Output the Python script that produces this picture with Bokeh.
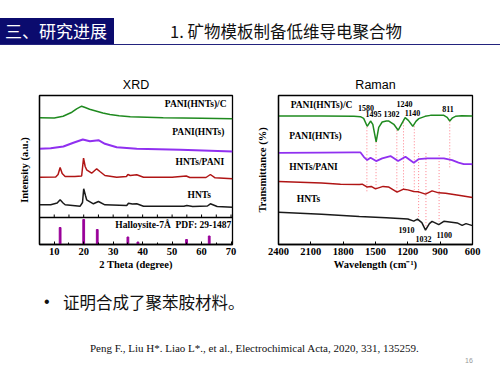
from bokeh.plotting import figure
from bokeh.models import Range1d, Label, Span, Div, FixedTicker
from bokeh.layouts import column, row
from bokeh.embed import file_html
from bokeh.resources import INLINE

SERIF = "Liberation Serif"
SANS = "Liberation Sans"
CJK = "Noto Sans CJK SC"

# ---------------- XRD patterns (stacked, a.u.) ----------------
xrd_c_theta = [5, 10, 13, 16, 17.6, 19.3, 20.5, 22, 24.4, 26.5, 28.9, 32, 35.8, 47, 60, 70.5]
xrd_c_int = [126.7, 126.5, 128.3, 132.3, 135.7, 138.3, 137, 135.3, 133.3, 131.5, 130, 128.7, 127.7, 126.7, 126.2, 125.7]

xrd_p_theta = [5, 8.8, 13.1, 16.5, 19.7, 22.1, 25, 27.2, 31.2, 38, 52.8, 70.5]
xrd_p_int = [95.7, 96.3, 98, 101.7, 105, 103.3, 104.3, 100.7, 97.3, 95.7, 94.7, 93]

xrd_hp_theta = [5, 10.5, 11.3, 12.0, 12.7, 13.7, 17, 19.3, 19.95, 20.5, 21.0, 22.7, 24.4, 25.5,
                27.2, 31.2, 34.5, 35, 35.8, 38, 40.3, 50, 54.8, 56, 61.5, 63, 64.6, 70.5]
xrd_hp_int = [67.3, 67.5, 70, 77, 71, 68, 68, 68.5, 86.3, 78, 74.7, 71.3, 75.7, 73,
              69, 67.3, 68, 70, 69, 69.7, 67.3, 67.3, 68.5, 67, 67, 70, 66.7, 65.7]

xrd_h_theta = [5, 8.8, 11.0, 12.0, 13.0, 13.7, 18.8, 19.6, 20.0, 20.6, 21.0, 23.3, 25.0, 27.2,
               34.6, 35.2, 36.5, 38.0, 40.3, 54, 55, 57, 62, 63, 65.3, 70.5]
xrd_h_int = [39.7, 39.7, 41.5, 44.7, 41.5, 39.7, 38.3, 42, 55.7, 49, 44.7, 40.7, 43, 39.7,
             39, 41.3, 40.5, 40.7, 38.3, 38.3, 39, 38, 38.5, 40.7, 38, 37.3]

# Halloysite-7A reference lines (PDF 29-1487)
ref_theta = [12.0, 20.0, 24.6, 35.0, 38.4, 54.9, 62.6]
ref_int = [17, 25, 15, 7.5, 2.5, 5, 8.5]
ref_level = 27

xrd_ticks = [10, 20, 30, 40, 50, 60, 70]
xrd_minor = [5, 15, 25, 35, 45, 55, 65]

# ---------------- Raman / transmittance spectra ----------------
ra_c_wn = [2400, 2000, 1700, 1640, 1610, 1577, 1546, 1525, 1494, 1470, 1438, 1400, 1376, 1330,
           1290, 1260, 1225, 1195, 1154, 1125, 1098, 1040, 990, 866, 835, 811, 785, 758, 700, 600]
ra_c_val = [129.3, 129.3, 129, 128.7, 127, 119, 124.3, 121, 103.3, 118, 123.3, 124.3, 124.3, 121,
            115, 121, 127.7, 125, 119, 124, 126.7, 129, 130, 130, 128, 124.3, 127.5, 129, 129.5, 129.3]

ra_p_wn = [2400, 2000, 1700, 1639, 1609, 1577, 1546, 1494, 1438, 1361, 1290, 1222, 1145, 1098,
           1020, 866, 789, 730, 681, 619, 600]
ra_p_val = [92.3, 92.5, 92.7, 92.7, 88.3, 85, 87.3, 84, 86.7, 89, 84, 88.3, 82.3, 86,
            86.7, 86.7, 85, 82.5, 81, 81, 80.8]

ra_hp_wn = [2400, 2000, 1825, 1650, 1624, 1580, 1540, 1500, 1430, 1380, 1300, 1240, 1200, 1145,
            1100, 1036, 975, 913, 850, 700, 600]
ra_hp_val = [63.3, 62, 60.7, 60.5, 60.7, 58, 58.5, 56, 58.5, 58, 52.7, 55.7, 55, 53.3,
             53, 50.7, 54, 52, 51.5, 49, 47.3]

ra_h_wn = [2400, 2000, 1650, 1400, 1200, 1145, 1110, 1070, 1036, 1000, 975, 913, 866, 742, 696, 660, 600]
ra_h_val = [32.5, 30.5, 28.3, 27, 25.7, 23.5, 25.5, 22, 14.5, 21, 23.3, 20, 23.3, 21.7, 19.3, 21, 19]

# peak markers: wavenumber, upper and lower end of the dotted guide
peak_wn = [1580, 1495, 1302, 1240, 1140, 811, 1100, 1032, 910]
peak_top = [118, 103, 115, 126, 119, 124, 92, 92, 90]
peak_bottom = [53, 55, 52, 55, 53, 77, 26, 17, 23]

# peak annotations: text, wavenumber, level
peak_text = ["1580", "1495", "1302", "1240", "1140", "811", "1910", "1032", "1100"]
peak_text_wn = [1588, 1518, 1352, 1231, 1157, 828, 1213, 1055, 863]
peak_text_y = [137.3, 131.7, 131.7, 141, 132, 136, 15, 6, 9.3]

raman_ticks = [2400, 2100, 1800, 1500, 1200, 900, 600]

GREEN = "#1f8a1f"
PURPLE = "#9030f0"
RED = "#b01515"
BLACK = "#1a1a1a"
STICK = "#990099"
GUIDE = "#ff7f8a"


def style_panel(p, title):
    p.title.text = title
    p.title.align = "center"
    p.title.text_font = SANS
    p.title.text_font_style = "normal"
    p.title.text_font_size = "12.5px"
    p.title.text_color = "black"
    p.title.standoff = 8
    p.grid.visible = False
    p.outline_line_color = "black"
    p.outline_line_width = 1.3
    p.outline_line_alpha = 1
    p.background_fill_color = "white"
    p.border_fill_color = "white"
    for ax in (p.xaxis[0], p.yaxis[0]):
        ax.axis_line_color = "black"
        ax.axis_line_width = 1.3
        ax.axis_label_text_font = SERIF
        ax.axis_label_text_font_style = "bold"
        ax.axis_label_text_font_size = "10.5px"
        ax.axis_label_text_color = "black"
        ax.major_label_text_font = SERIF
        ax.major_label_text_font_style = "bold"
        ax.major_label_text_font_size = "10.5px"
        ax.major_label_text_color = "black"
        ax.major_tick_line_color = "black"
        ax.minor_tick_line_color = "black"
    p.yaxis.ticker = FixedTicker(ticks=[])
    p.yaxis.major_label_text_alpha = 0
    p.xaxis.major_tick_in = 3
    p.xaxis.major_tick_out = 0
    p.xaxis.minor_tick_in = 2
    p.xaxis.minor_tick_out = 0
    p.xaxis.major_label_standoff = 3
    p.xaxis.axis_label_standoff = 1


def tag(p, x, y, text, size="9.5px", align="center"):
    p.add_layout(Label(x=x, y=y, text=text, text_align=align, text_baseline="middle",
                       text_font=SERIF, text_font_style="bold", text_font_size=size,
                       text_color="black"))


# ---------------- XRD panel ----------------
xrd = figure(width=250, height=215, output_backend="svg", toolbar_location=None,
             x_range=Range1d(5, 70.5), y_range=Range1d(0, 149),
             min_border_left=39, min_border_right=18, min_border_top=35, min_border_bottom=31)
style_panel(xrd, "XRD")
xrd.xaxis.ticker = FixedTicker(ticks=xrd_ticks, minor_ticks=xrd_minor)
xrd.xaxis.axis_label = "2 Theta (degree)"
xrd.yaxis.axis_label = "Intensity (a.u.)"
xrd.yaxis.axis_label_standoff = 10

xrd.line(xrd_c_theta, xrd_c_int, line_color=GREEN, line_width=1.5)
xrd.line(xrd_p_theta, xrd_p_int, line_color=PURPLE, line_width=2.0)
xrd.line(xrd_hp_theta, xrd_hp_int, line_color=RED, line_width=1.5)
xrd.line(xrd_h_theta, xrd_h_int, line_color=BLACK, line_width=1.5)

xrd.add_layout(Span(location=ref_level, dimension="width", line_color="black", line_width=1.3))
all_ticks = sorted(xrd_ticks + xrd_minor)
xrd.segment(x0=all_ticks, y0=[ref_level] * len(all_ticks), x1=all_ticks,
            y1=[ref_level + 3] * len(all_ticks), line_color="black", line_width=1)
xrd.vbar(x=ref_theta, top=ref_int, bottom=0, width=0.6, fill_color=STICK, line_color=STICK)

tag(xrd, 58.0, 141, "PANI(HNTs)/C")
tag(xrd, 58.9, 113, "PANI(HNTs)")
tag(xrd, 59.4, 83, "HNTs/PANI")
tag(xrd, 59.2, 50, "HNTs")
tag(xrd, 50.4, 20, "Halloysite-7Å\u00a0 PDF: 29-1487")

# ---------------- Raman panel ----------------
ram = figure(width=250, height=215, output_backend="svg", toolbar_location=None,
             x_range=Range1d(2400, 600), y_range=Range1d(0, 150),
             min_border_left=28, min_border_right=28, min_border_top=35, min_border_bottom=30)
style_panel(ram, "Raman")
ram.xaxis.ticker = FixedTicker(ticks=raman_ticks)
ram.xaxis.minor_tick_in = 0
ram.xaxis.axis_label = "Wavelength (cm⁻¹)"
ram.yaxis.axis_label = "Transmittance (%)"
ram.yaxis.axis_label_standoff = 11

ram.segment(x0=peak_wn, y0=peak_top, x1=peak_wn, y1=peak_bottom,
            line_color=GUIDE, line_width=1, line_dash="1 2")
ram.line(ra_c_wn, ra_c_val, line_color=GREEN, line_width=1.5)
ram.line(ra_p_wn, ra_p_val, line_color=PURPLE, line_width=1.8)
ram.line(ra_hp_wn, ra_hp_val, line_color=RED, line_width=1.5)
ram.line(ra_h_wn, ra_h_val, line_color=BLACK, line_width=1.5)

tag(ram, 2001, 140, "PANI(HNTs)/C")
tag(ram, 2057, 109, "PANI(HNTs)")
tag(ram, 2075, 78.3, "HNTs/PANI")
tag(ram, 2122, 45.7, "HNTs")
for t, wx, wy in zip(peak_text, peak_text_wn, peak_text_y):
    tag(ram, wx, wy, t, size="8px")

# ---------------- slide texts ----------------
header = Div(width=500, height=60, margin=0, text=f"""
<div style="position:relative;width:500px;height:60px;">
  <div style="position:absolute;left:0;top:18px;width:114px;height:26px;background:#0b0b6e;
              color:#ffffff;font-family:'{CJK}';font-size:17px;line-height:26px;
              padding-left:5px;box-sizing:border-box;white-space:nowrap;">三、研究进展</div>
  <div style="position:absolute;left:170px;top:20px;font-family:'{CJK}';font-size:16.5px;
              line-height:22px;color:#111111;white-space:nowrap;">1. 矿物模板制备低维导电聚合物</div>
  <div style="position:absolute;left:0;top:44px;width:500px;height:0;
              border-top:1.5px solid #23237e;"></div>
</div>""")

footer = Div(width=500, height=100, margin=0, text=f"""
<div style="position:relative;width:500px;height:100px;">
  <div style="position:absolute;left:44px;top:16px;font-family:'{SANS}';font-size:16px;
              line-height:22px;color:#111111;white-space:nowrap;">•</div>
  <div style="position:absolute;left:63px;top:16px;font-family:'{CJK}';font-size:16.5px;
              line-height:22px;color:#111111;white-space:nowrap;">证明合成了聚苯胺材料。</div>
  <div style="position:absolute;left:90px;top:67px;font-family:'{SERIF}';font-size:11px;
              line-height:12px;color:#111111;white-space:nowrap;">Peng F., Liu H*. Liao L*., et al., Electrochimical Acta, 2020, 331, 135259.</div>
  <div style="position:absolute;left:465px;top:81px;font-family:'{SANS}';font-size:7px;
              line-height:9px;color:#999999;white-space:nowrap;">16</div>
</div>""")

panels = row(xrd, ram, spacing=0)
page = column(header, panels, footer, spacing=0)

open("out.html", "w").write(file_html(page, INLINE))
